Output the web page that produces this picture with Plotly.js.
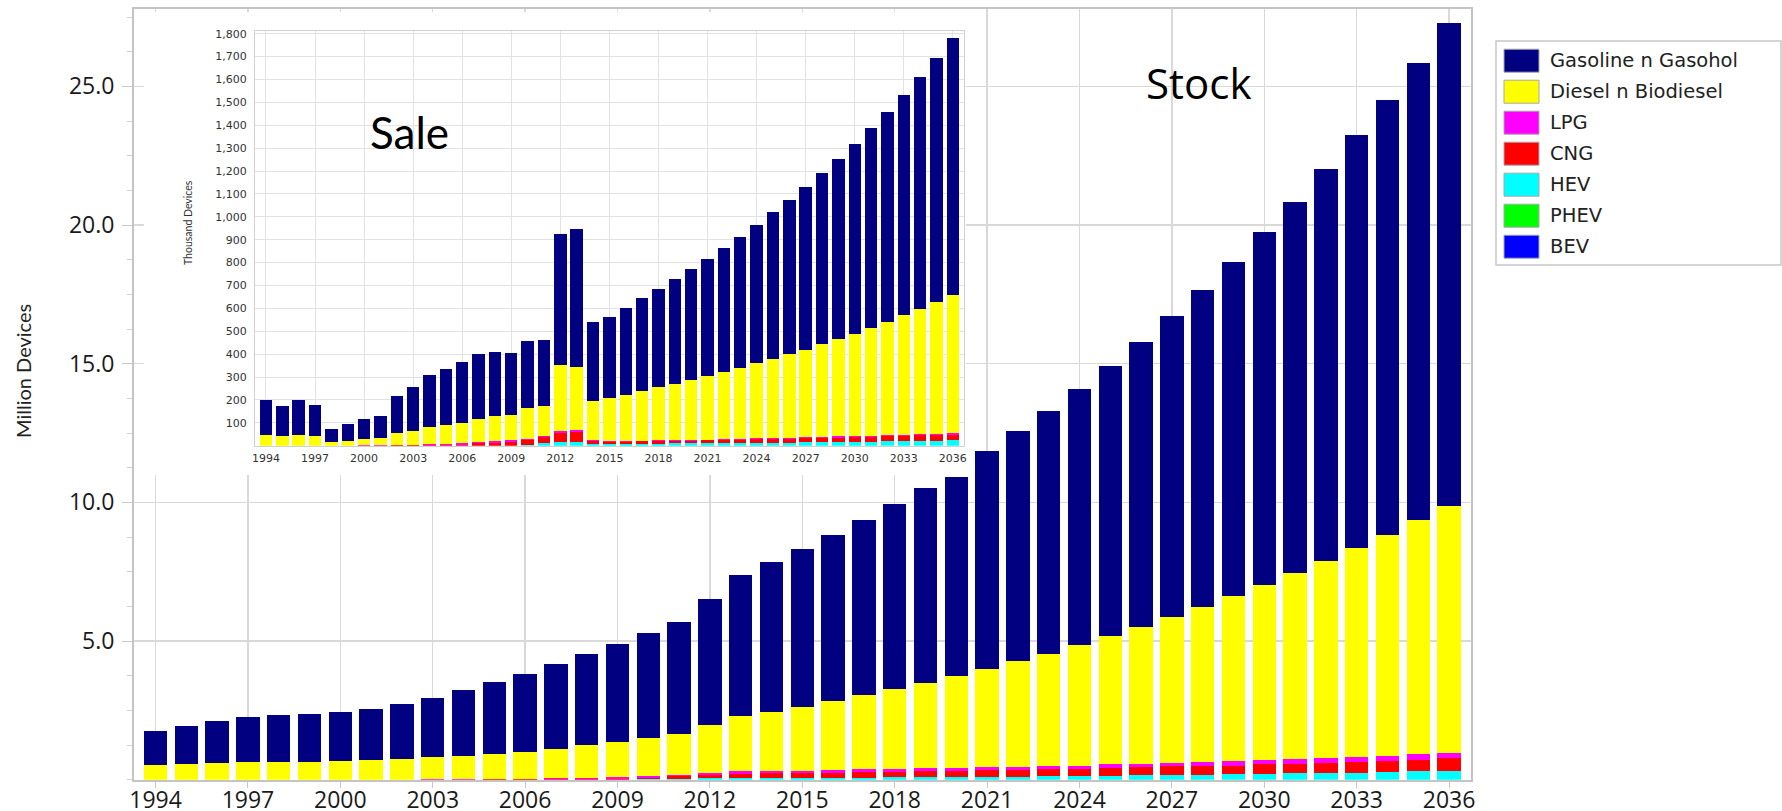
<!DOCTYPE html>
<html>
<head>
<meta charset="utf-8">
<script src="https://cdn.plot.ly/plotly-3.0.1.min.js"></script>
<style>
html,body{margin:0;padding:0;background:#ffffff;}
#chart{width:1782px;height:811px;}
</style>
</head>
<body>
<div id="chart"></div>
<script>
// ---------------- DATA ----------------
const years = [1994,1995,1996,1997,1998,1999,2000,2001,2002,2003,2004,2005,2006,2007,2008,2009,2010,2011,2012,2013,2014,2015,2016,2017,2018,2019,2020,2021,2022,2023,2024,2025,2026,2027,2028,2029,2030,2031,2032,2033,2034,2035,2036];

const seriesNames = ['Gasoline n Gasohol','Diesel n Biodiesel','LPG','CNG','HEV','PHEV','BEV'];
const seriesColors = ['#000080','#FFFF00','#FF00FF','#FF0000','#00FFFF','#00FF00','#0000FF'];

// Stock (million devices)
const stockGasoline = [1.24,1.35,1.51,1.64,1.67,1.72,1.78,1.84,1.97,2.14,2.35,2.57,2.81,3.06,3.27,3.51,3.77,4.01,4.55,5.09,5.40,5.69,6.00,6.33,6.67,7.03,7.17,7.85,8.28,8.73,9.24,9.74,10.28,10.86,11.42,12.04,12.72,13.37,14.14,14.89,15.69,16.51,17.41];
const stockDiesel = [0.53,0.58,0.60,0.63,0.65,0.65,0.67,0.71,0.76,0.78,0.84,0.90,0.97,1.07,1.18,1.26,1.39,1.48,1.75,2.00,2.12,2.31,2.49,2.67,2.86,3.08,3.32,3.55,3.81,4.06,4.34,4.62,4.94,5.26,5.58,5.94,6.31,6.69,7.09,7.53,7.97,8.44,8.91];
const stockLPG = [0,0,0,0,0,0,0,0,0,0.03,0.03,0.03,0.03,0.04,0.05,0.07,0.05,0.04,0.06,0.08,0.10,0.08,0.10,0.10,0.12,0.11,0.12,0.11,0.11,0.12,0.12,0.13,0.13,0.12,0.16,0.17,0.16,0.18,0.20,0.16,0.19,0.20,0.19];
const stockCNG = [0,0,0,0,0,0,0,0,0,0,0,0.01,0.01,0.01,0.02,0.04,0.06,0.10,0.12,0.17,0.18,0.17,0.18,0.20,0.20,0.22,0.23,0.24,0.25,0.24,0.26,0.28,0.29,0.30,0.31,0.31,0.35,0.35,0.34,0.40,0.38,0.40,0.46];
const stockHEV = [0,0,0,0,0,0,0,0,0,0,0,0,0,0,0,0,0.01,0.04,0.05,0.05,0.05,0.07,0.07,0.07,0.08,0.08,0.08,0.10,0.11,0.13,0.13,0.14,0.16,0.18,0.18,0.20,0.20,0.23,0.25,0.25,0.29,0.31,0.31];
const stockPHEV = [0,0,0,0,0,0,0,0,0,0,0,0,0,0,0,0,0,0,0,0,0,0,0,0,0,0,0,0,0,0,0,0,0,0,0,0,0,0,0,0,0,0,0];
const stockBEV = [0,0,0,0,0,0,0,0,0,0,0,0,0,0,0,0,0,0,0,0,0,0,0,0,0,0,0,0,0,0,0,0,0,0,0,0,0,0,0,0,0,0,0];

// Sale (thousand devices)
const saleGasoline = [154,134,154,137,54,72,87,98,163,192,230,245,268,285,283,270,294,288,576,605,345,354,379,406,431,457,484,514,542,574,606,641,676,712,749,789,828,873,916,961,1011,1065,1119];
const saleDiesel = [47,41,47,41,18,22,27,32,51,63,74,82,87,100,109,112,134,128,287,272,168,188,202,217,232,246,263,276,293,308,328,346,365,383,405,424,448,471,496,522,548,576,605];
const saleLPG = [0,0,0,0,0,0,1,1,2,2,5,6,7,7,6,6,6,6,10,9,7,4,3,3,4,4,4,4,4,4,4,4,4,4,4,6,6,6,4,6,6,6,7];
const saleCNG = [0,0,0,0,0,0,0,0,1,1,1,1,4,10,13,17,21,28,39,45,10,7,9,10,10,10,10,13,15,15,16,16,17,18,19,19,20,20,22,22,25,26,25];
const saleHEV = [0,0,0,0,0,0,0,0,0,0,0,0,0,0,0,0,2,10,15,16,9,9,9,9,9,10,10,10,10,12,12,13,13,15,15,16,16,17,19,20,20,20,23];
const salePHEV = [0,0,0,0,0,0,0,0,0,0,0,0,0,0,0,0,0,0,0,0,0,0,0,0,0,0,0,0,0,0,0,0,0,0,0,0,0,0,0,0,0,0,0];
const saleBEV = [0,0,0,0,0,0,0,0,0,0,0,0,0,0,0,0,0,0,0,0,0,0,0,0,0,0,0,0,0,0,0,0,0,0,0,0,0,0,0,0,0,0,0];

const stockTicks = [5,10,15,20,25];
const saleTicks = [100,200,300,400,500,600,700,800,900,1000,1100,1200,1300,1400,1500,1600,1700,1800];

// ---------------- BUILD ----------------
const W = 1782, H = 811;
const px = x => x / W;
const py = y => 1 - y / H;

const stockSeries = [stockGasoline, stockDiesel, stockLPG, stockCNG, stockHEV, stockPHEV, stockBEV];
const saleSeries = [saleGasoline, saleDiesel, saleLPG, saleCNG, saleHEV, salePHEV, saleBEV];
const stackOrder = [6,5,4,3,2,1,0]; // bottom (BEV) to top (Gasoline)

const traces = [];
stackOrder.forEach(i => {
  traces.push({
    type: 'bar', x: years, y: stockSeries[i], name: seriesNames[i],
    marker: {color: seriesColors[i], line: {width: 0}},
    xaxis: 'x', yaxis: 'y', showlegend: false
  });
});
stackOrder.forEach(i => {
  traces.push({
    type: 'bar', x: years, y: saleSeries[i], name: seriesNames[i],
    marker: {color: seriesColors[i], line: {width: 0}},
    xaxis: 'x2', yaxis: 'y2', showlegend: false
  });
});

const shapes = [
  // white background of the inset (covers main gridlines)
  {type: 'rect', xref: 'x', yref: 'y', x0: 1993.62, x1: 2020.31, y0: 10.99, y1: 27.68,
   fillcolor: '#ffffff', line: {width: 0}, layer: 'between'},
  // legend box
  {type: 'rect', xref: 'paper', yref: 'paper', x0: px(1496), x1: px(1781), y0: py(265), y1: py(41),
   fillcolor: 'rgba(0,0,0,0)', line: {color: '#c8c8c8', width: 1.5}, layer: 'above'}
];
const annotations = [
  {xref: 'paper', yref: 'paper', x: px(1198), y: py(83), text: 'Stock', showarrow: false,
   xanchor: 'center', yanchor: 'middle', font: {family: 'Open Sans', size: 42, color: '#000'}},
  {xref: 'paper', yref: 'paper', x: px(409), y: py(132), text: 'Sale', showarrow: false,
   xanchor: 'center', yanchor: 'middle', font: {family: 'Lato', size: 44, color: '#000'}},
  {xref: 'paper', yref: 'paper', x: px(23), y: py(371), text: 'Million Devices', showarrow: false,
   textangle: -90, xanchor: 'center', yanchor: 'middle', font: {family: 'Lato', size: 20, color: '#222'}},
  {xref: 'paper', yref: 'paper', x: px(188), y: py(223), text: 'Thousand Devices', showarrow: false,
   textangle: -90, xanchor: 'center', yanchor: 'middle', font: {family: 'Lato', size: 10.5, color: '#333'}}
];
seriesNames.forEach((name, i) => {
  const yc = 60.7 + 31 * i;
  shapes.push({type: 'rect', xref: 'paper', yref: 'paper', x0: px(1504), x1: px(1539), y0: py(yc + 11.5), y1: py(yc - 11.5),
    fillcolor: seriesColors[i], line: {color: '#a8a8a8', width: 1}, layer: 'above'});
  annotations.push({xref: 'paper', yref: 'paper', x: px(1548), y: py(yc), text: name, showarrow: false,
    xanchor: 'left', yanchor: 'middle', font: {family: 'DejaVu Sans', size: 19.5, color: '#222'}});
});

const layout = {
  width: W, height: H,
  margin: {l: 0, r: 0, t: 0, b: 0},
  paper_bgcolor: '#ffffff', plot_bgcolor: '#ffffff',
  barmode: 'stack', bargap: 0.24,
  showlegend: false,
  font: {family: 'Open Sans', color: '#222'},
  xaxis: {
    domain: [px(134), px(1470.6)], range: [1993.3, 2036.7], anchor: 'y',
    tickmode: 'linear', tick0: 1994, dtick: 3,
    ticks: 'outside', ticklen: 6, tickcolor: '#c8c8c8', ticklabelstandoff: -7,
    showgrid: true, gridcolor: '#d9d9d9', gridwidth: 1.5,
    showline: true, mirror: true, linecolor: '#c4c4c4', linewidth: 2,
    zeroline: false, tickfont: {family: 'Open Sans', size: 23, color: '#1a1a1a'}
  },
  yaxis: {
    domain: [py(779.7), py(9)], range: [0, 27.79], anchor: 'x',
    tickmode: 'array', tickvals: stockTicks, tickformat: '.1f',
    ticks: 'outside', ticklen: 10, tickcolor: '#c8c8c8', ticklabelstandoff: 3,
    minor: {tickmode: 'linear', tick0: 0, dtick: 1.25, ticks: 'outside', ticklen: 5, tickcolor: '#d0d0d0', showgrid: false},
    showgrid: true, gridcolor: '#d9d9d9', gridwidth: 1.5,
    showline: true, mirror: true, linecolor: '#c4c4c4', linewidth: 2,
    zeroline: false, tickfont: {family: 'Open Sans', size: 23, color: '#1a1a1a'}
  },
  xaxis2: {
    domain: [px(255), px(963.8)], range: [1993.33, 2036.67], anchor: 'y2',
    tickmode: 'linear', tick0: 1994, dtick: 3, ticks: '', ticklabelstandoff: 2,
    showgrid: true, gridcolor: '#e2e2e2', gridwidth: 1,
    showline: true, mirror: true, linecolor: '#d0d0d0', linewidth: 1,
    zeroline: false, tickfont: {family: 'DejaVu Sans', size: 11, color: '#333'}
  },
  yaxis2: {
    domain: [py(445.7), py(30.7)], range: [0, 1813], anchor: 'x2',
    tickmode: 'array', tickvals: saleTicks, tickformat: ',d', ticks: '', ticklabelstandoff: 5,
    showgrid: true, gridcolor: '#e2e2e2', gridwidth: 1,
    showline: true, mirror: true, linecolor: '#d0d0d0', linewidth: 1,
    zeroline: false, tickfont: {family: 'DejaVu Sans', size: 11, color: '#333'}
  },
  shapes: shapes,
  annotations: annotations
};

Plotly.newPlot('chart', traces, layout, {staticPlot: true, displayModeBar: false});
</script>
</body>
</html>
